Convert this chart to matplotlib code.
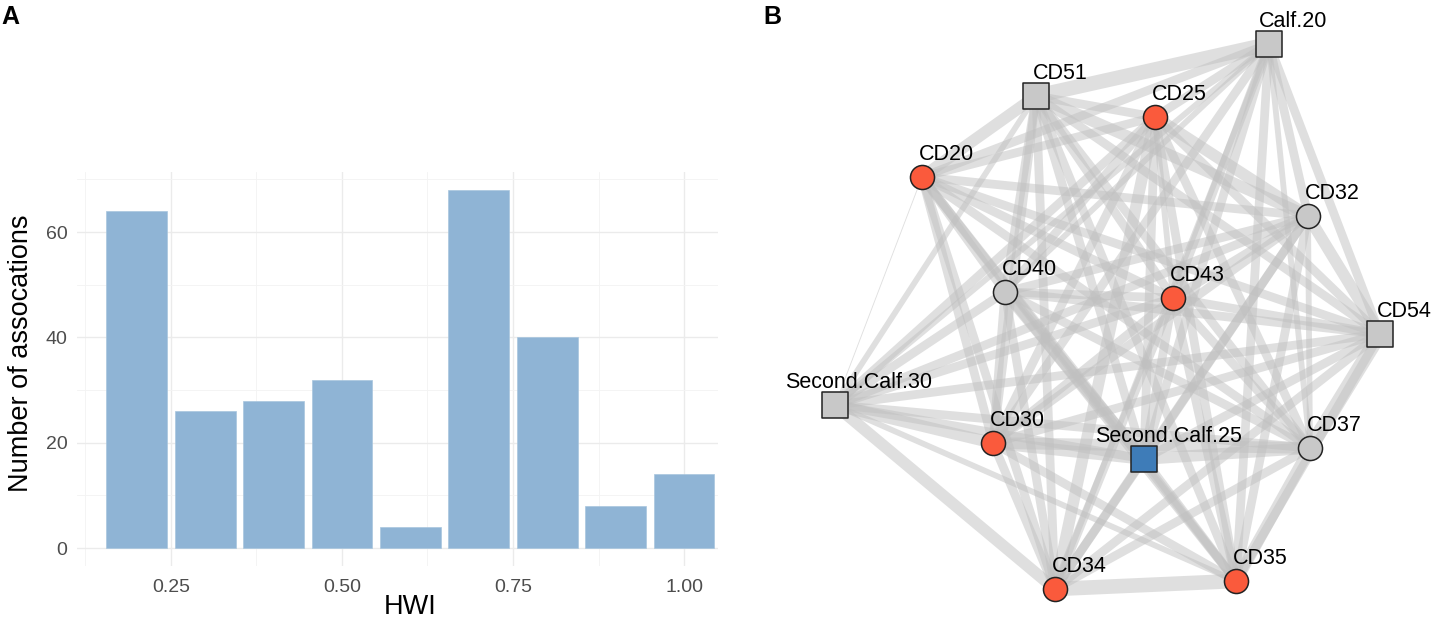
import matplotlib
matplotlib.use("Agg")
import matplotlib.pyplot as plt

plt.rcParams['font.family'] = ['Liberation Sans', 'DejaVu Sans']

# panel A: HWI histogram
hwi_bins = [0.2, 0.3, 0.4, 0.5, 0.6, 0.7, 0.8, 0.9, 1.0]
n_assoc = [64, 26, 28, 32, 4, 68, 40, 8, 14]
x_ticks = [0.25, 0.50, 0.75, 1.00]
x_tick_labels = ["0.25", "0.50", "0.75", "1.00"]
y_ticks = [0, 20, 40, 60]

# panel B: association network (layout coordinates)
node_names = ["Calf.20", "CD51", "CD25", "CD20", "CD32", "CD40", "CD43", "CD54",
              "Second.Calf.30", "CD30", "Second.Calf.25", "CD37", "CD34", "CD35"]
node_x = [1269, 1036, 1155, 922, 1308, 1005, 1173, 1380, 835, 993, 1144, 1310, 1055, 1236]
node_y = [44, 96, 117, 177, 216, 292, 298, 334, 405, 443, 459, 448, 589, 581]
node_type = ["calf", "calf", "red", "red", "grey", "grey", "red", "calf",
             "calf", "red", "focal", "grey", "red", "red"]

# upper-triangle association weights (row i -> nodes i+1..13)
edge_weights = [
    [5, 3, 3, 3, 2, 3, 3, 2, 3, 3, 2, 2, 3],
    [3, 4, 4, 3, 3, 3, 2, 3, 3, 3, 3, 3],
    [3, 4, 3, 2, 3, 3, 3, 3, 3, 4, 3],
    [3, 3, 3, 3, 0.3, 3, 3, 3, 3, 3],
    [3, 3, 4, 3, 3, 3, 2, 3, 3],
    [3, 3, 3, 3, 4, 3, 3, 3],
    [3, 3, 3, 3, 3, 3, 3],
    [3, 3, 3, 5, 3, 3],
    [4, 3, 3, 4, 2],
    [4, 4, 3, 3],
    [4, 3, 3],
    [3, 4],
    [5],
]

fill = {"calf": "#C8C8C8", "grey": "#C8C8C8", "red": "#FA5A3C", "focal": "#3E7CB8"}
shape = {"calf": "s", "grey": "o", "red": "o", "focal": "s"}

fig = plt.figure(figsize=(14.33, 6.2), dpi=100)

# ---- A ----
ax = fig.add_axes([77 / 1433, 54 / 620, 641 / 1433, 394 / 620])
ax.bar(hwi_bins, n_assoc, width=0.089, color="#8FB4D5", edgecolor="#A9C6DE", linewidth=0.5, zorder=2)
ax.set_xlim(0.1126, 1.0497)
ax.set_ylim(-3.4, 71.4)
ax.set_xticks(x_ticks)
ax.set_xticklabels(x_tick_labels)
ax.set_yticks(y_ticks)
ax.set_xticks([0.125, 0.375, 0.625, 0.875], minor=True)
ax.set_yticks([10, 30, 50, 70], minor=True)
ax.grid(which="major", color="#EBEBEB", linewidth=1.0, zorder=0)
ax.grid(which="minor", color="#F3F3F3", linewidth=0.6, zorder=0)
ax.set_axisbelow(True)
for s in ax.spines.values():
    s.set_visible(False)
ax.tick_params(which="both", length=0, labelsize=14, labelcolor="#4D4D4D")
ax.tick_params(axis="x", pad=9)
ax.tick_params(axis="y", pad=7)
ax.set_xlabel("HWI", fontsize=19.5)
ax.set_ylabel("Number of assocations", fontsize=19.5)
ax.xaxis.set_label_coords(0.52, -0.072)
ax.yaxis.set_label_coords(-0.067, 0.54)
fig.text(1 / 1433, 1 - 5 / 620, "A", fontsize=18, fontweight="bold", va="top", ha="left")

# ---- B ----
bx = fig.add_axes([760 / 1433, 0, 673 / 1433, 1])
bx.set_xlim(760, 1433)
bx.set_ylim(620, 0)
bx.axis("off")

n = len(node_names)
for i, row in enumerate(edge_weights):
    for k, w in enumerate(row):
        j = i + 1 + k
        bx.plot([node_x[i], node_x[j]], [node_y[i], node_y[j]], color="#C0C0C0",
                alpha=0.5, linewidth=w * 2.1, solid_capstyle="butt", zorder=1)

for i in range(n):
    t = node_type[i]
    size = 330 if shape[t] == "s" else 300
    bx.scatter(node_x[i], node_y[i], s=size, marker=shape[t], color=fill[t],
               edgecolors="#222222", linewidths=1.1, zorder=3)
    bx.text(node_x[i] + 24, node_y[i] - 17, node_names[i], fontsize=15.5,
            ha="center", va="baseline", color="black", zorder=4)

fig.text(763 / 1433, 1 - 5 / 620, "B", fontsize=18, fontweight="bold", va="top", ha="left")

fig.savefig("out.png", dpi=100)
